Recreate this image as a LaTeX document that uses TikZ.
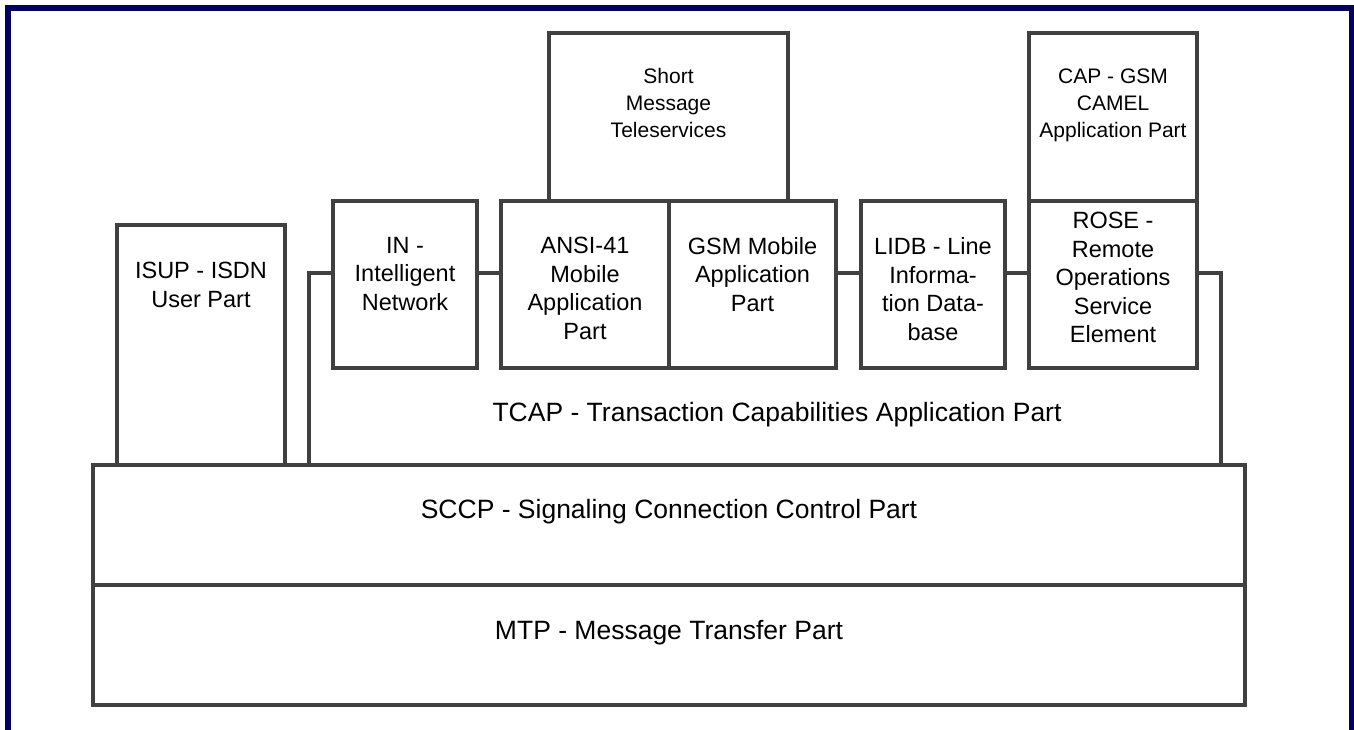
\documentclass[tikz,border=0pt]{standalone}
\usepackage{fontspec}
\setmainfont{Liberation Sans}
\definecolor{navyframe}{RGB}{6,0,96}
\definecolor{linegray}{RGB}{64,64,64}
\tikzset{
  box/.style={draw=linegray, line width=4pt, rectangle, inner sep=0pt, outer sep=0pt},
  conn/.style={draw=linegray, line width=4pt},
  boxtext/.style={anchor=north, align=center, inner sep=0pt, font=\fontsize{23.5}{28.5}\selectfont},
  smalltext/.style={anchor=north, align=center, inner sep=0pt, font=\fontsize{21}{27}\selectfont},
  bigtext/.style={anchor=center, inner sep=0pt, font=\fontsize{26.5}{32}\selectfont},
}
\begin{document}
\begin{tikzpicture}[x=1pt,y=-1pt]
\useasboundingbox (0,0) rectangle (1354,729);
% frame
\draw[navyframe, line width=6pt] (8,740) -- (8,8) -- (1351.5,8) -- (1351.5,740);
% bottom layers
\node[box, minimum width=1152pt, minimum height=120pt] (mtp) at (669,645) {};
\node[box, minimum width=1152pt, minimum height=120pt] (sccp) at (669,525) {};
% ISUP
\node[box, minimum width=168pt, minimum height=240pt] (isup) at (201,345) {};
% TCAP users
\node[box, minimum width=144pt, minimum height=167pt] (in) at (405,284.5) {};
\node[box, minimum width=168pt, minimum height=167pt] (ansi) at (585,284.5) {};
\node[box, minimum width=167pt, minimum height=167pt] (gsm) at (752.5,284.5) {};
\node[box, minimum width=144pt, minimum height=167pt] (lidb) at (933,284.5) {};
\node[box, minimum width=168pt, minimum height=167pt] (rose) at (1113,284.5) {};
\node[box, minimum width=239pt, minimum height=168pt] (smt) at (668.5,117) {};
\node[box, minimum width=168pt, minimum height=168pt] (cap) at (1113,117) {};
% TCAP outline
\coordinate (tcapbl) at (309,465);
\coordinate (tcaptl) at (309,273);
\coordinate (tcapbr) at (1221,465);
\coordinate (tcaptr) at (1221,273);
\draw[conn] (tcapbl) -- (tcaptl) -- (tcaptl -| in.west);
\draw[conn] (tcaptl -| in.east) -- (tcaptl -| ansi.west);
\draw[conn] (tcaptl -| gsm.east) -- (tcaptl -| lidb.west);
\draw[conn] (tcaptl -| lidb.east) -- (tcaptl -| rose.west);
\draw[conn] (tcaptl -| rose.east) -- (tcaptr) -- (tcapbr);
% texts
\node[boxtext] (isupt) at (201,262) {ISUP - ISDN\\User Part};
\node[boxtext] (int) at (405,237) {IN -\\Intelligent\\Network};
\node[boxtext] (ansit) at (585,237) {ANSI-41\\Mobile\\Application\\Part};
\node[boxtext] (gsmt) at (752.5,237) {GSM Mobile\\Application\\Part};
\node[boxtext] (lidbt) at (933,237.5) {LIDB - Line\\Informa-\\tion Data-\\base};
\node[boxtext] (roset) at (1113,212) {ROSE -\\Remote\\Operations\\Service\\Element};
\node[smalltext] (smtt) at (668.5,68) {Short\\Message\\Teleservices};
\node[smalltext] (capt) at (1113,69) {CAP - GSM\\CAMEL\\Application Part};
\node[bigtext] (tcapt) at (777,415) {TCAP - Transaction Capabilities Application Part};
\node[bigtext] (sccpt) at (669,512) {SCCP - Signaling Connection Control Part};
\node[bigtext] (mtpt) at (669,633) {MTP - Message Transfer Part};
\end{tikzpicture}
\end{document}
